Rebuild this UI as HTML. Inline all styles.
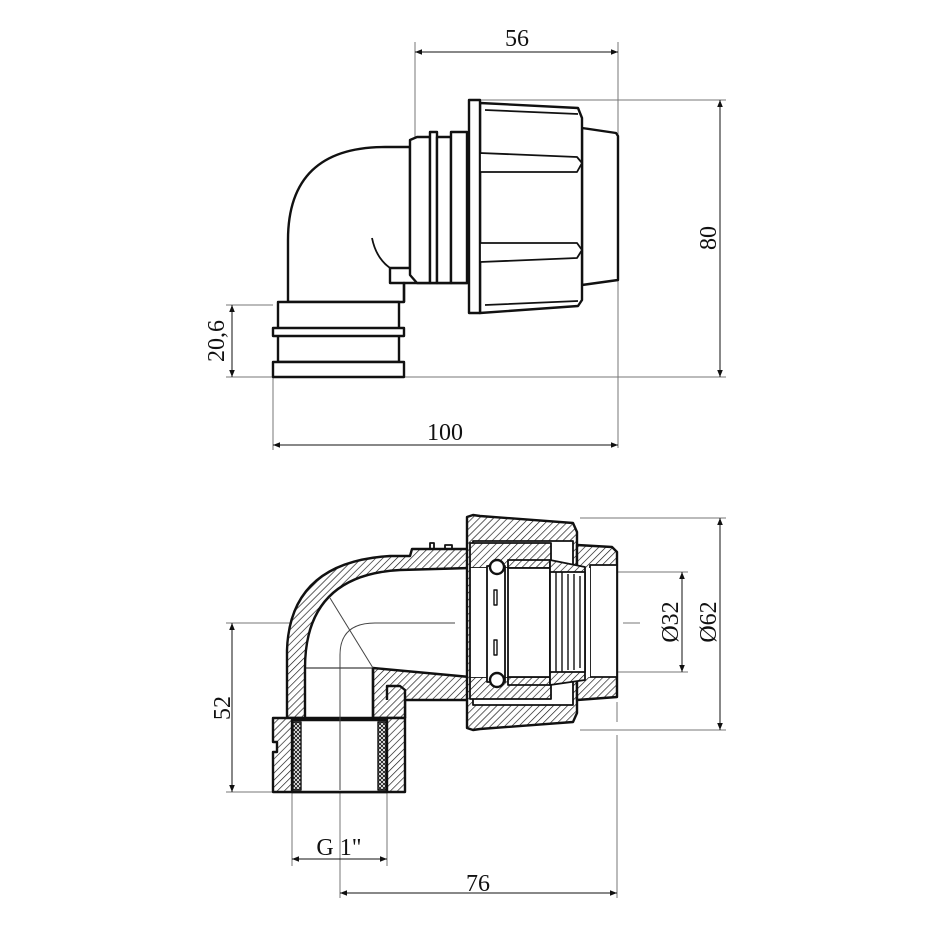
<!DOCTYPE html>
<html><head><meta charset="utf-8"><style>
html,body{margin:0;padding:0;background:#fff}
svg{display:block}
text{font-family:"Liberation Serif",serif;font-size:24px;fill:#111}
</style></head><body>
<svg width="930" height="930" viewBox="0 0 930 930" xmlns="http://www.w3.org/2000/svg">
<defs>
<pattern id="h" patternUnits="userSpaceOnUse" width="5" height="5" patternTransform="rotate(45)">
<rect width="5" height="5" fill="#fff"/><line x1="0" y1="0" x2="0" y2="5" stroke="#111" stroke-width="1.3"/></pattern>
<pattern id="x" patternUnits="userSpaceOnUse" width="4" height="4">
<rect width="4" height="4" fill="#fff"/><path d="M0,0L4,4M4,0L0,4" stroke="#111" stroke-width="0.9"/></pattern>
<marker id="a" viewBox="0 0 10 10" refX="10" refY="5" markerWidth="12" markerHeight="7" orient="auto-start-reverse" markerUnits="userSpaceOnUse"><path d="M0,1L10,5L0,9Z" fill="#111"/></marker>
</defs>

<!-- ===== TOP VIEW ===== -->
<g stroke="#777" stroke-width="1" fill="none">
<line x1="415" y1="42" x2="415" y2="140"/>
<line x1="618" y1="42" x2="618" y2="448"/>
<line x1="480" y1="100" x2="726" y2="100"/>
<line x1="405" y1="377" x2="726" y2="377"/>
<line x1="226" y1="305" x2="273" y2="305"/>
<line x1="226" y1="377" x2="273" y2="377"/>
<line x1="273" y1="377" x2="273" y2="450"/>
</g>
<g stroke="#111" stroke-width="1" fill="none">
<line x1="415" y1="52" x2="618" y2="52" marker-start="url(#a)" marker-end="url(#a)"/>
<line x1="720" y1="100" x2="720" y2="377" marker-start="url(#a)" marker-end="url(#a)"/>
<line x1="232" y1="305" x2="232" y2="377" marker-start="url(#a)" marker-end="url(#a)"/>
<line x1="273" y1="445" x2="618" y2="445" marker-start="url(#a)" marker-end="url(#a)"/>
</g>
<text x="517" y="46" text-anchor="middle">56</text>
<text x="445" y="440" text-anchor="middle">100</text>
<text transform="translate(716,238) rotate(-90)" text-anchor="middle">80</text>
<text transform="translate(224,341) rotate(-90)" text-anchor="middle">20,6</text>

<g stroke="#111" stroke-width="2.4" fill="#fff" stroke-linejoin="round">
<path d="M288,302 L288,240 Q288,147 385,147 L410,147 L410,268 L390,268 L390,283 L404,283 L404,302 Z"/>
<path d="M372,238 Q376,258 390,268" fill="none" stroke-width="1.8"/>
<path d="M404,302 L404,283 L470,283" fill="none"/>
<rect x="278" y="302" width="121" height="60"/>
<rect x="273" y="328" width="131" height="8"/>
<rect x="273" y="362" width="131" height="15"/>
<path d="M410,140 L417,137 L430,137 L430,283 L417,283 L410,275 Z"/>
<rect x="430" y="132" width="7" height="151"/>
<rect x="437" y="137" width="14" height="146"/>
<rect x="451" y="132" width="16" height="151"/>
<path d="M582,128 L616,133 L618,136 L618,280 L582,285 Z"/>
<path d="M480,103 L578,108 L582,118 L582,300 L578,306 L480,313 Z"/>
<rect x="469" y="100" width="11" height="213"/>
<path d="M480,153 L577,157 L582,163 L577,172 L480,172 Z" stroke-width="1.8"/>
<path d="M480,243 L577,243 L582,250 L577,258 L480,262 Z" stroke-width="1.8"/>
<path d="M485,110 L578,114 M485,305 L578,301" fill="none" stroke-width="1.8"/>
</g>

<!-- ===== BOTTOM VIEW ===== -->
<g stroke="#777" stroke-width="1" fill="none">
<line x1="226" y1="623" x2="455" y2="623"/>
<line x1="226" y1="792" x2="273" y2="792"/>
<line x1="580" y1="518" x2="726" y2="518"/>
<line x1="580" y1="730" x2="726" y2="730"/>
<line x1="610" y1="572" x2="688" y2="572"/>
<line x1="610" y1="672" x2="688" y2="672"/>
<line x1="340" y1="623" x2="340" y2="898"/>
<line x1="292" y1="793" x2="292" y2="866"/>
<line x1="387" y1="793" x2="387" y2="866"/>
<line x1="617" y1="735" x2="617" y2="898"/>
<line x1="617" y1="702" x2="617" y2="722"/>
<line x1="455" y1="623" x2="640" y2="623" stroke-dasharray="40,6,4,6"/>
</g>
<g stroke="#111" stroke-width="1" fill="none">
<line x1="232" y1="623" x2="232" y2="792" marker-start="url(#a)" marker-end="url(#a)"/>
<line x1="682" y1="572" x2="682" y2="672" marker-start="url(#a)" marker-end="url(#a)"/>
<line x1="720" y1="518" x2="720" y2="730" marker-start="url(#a)" marker-end="url(#a)"/>
<line x1="292" y1="859" x2="387" y2="859" marker-start="url(#a)" marker-end="url(#a)"/>
<line x1="340" y1="893" x2="617" y2="893" marker-start="url(#a)" marker-end="url(#a)"/>
</g>
<text transform="translate(230,708) rotate(-90)" text-anchor="middle">52</text>
<text transform="translate(678,622) rotate(-90)" text-anchor="middle">Ø32</text>
<text transform="translate(716,622) rotate(-90)" text-anchor="middle">Ø62</text>
<text x="339" y="855" text-anchor="middle">G 1"</text>
<text x="478" y="891" text-anchor="middle">76</text>

<g stroke="#111" stroke-width="2.4" stroke-linejoin="round">
<path d="M287,718 L287,650 Q290,562 390,556 L410,556 L412,549 L470,549 L470,700 L405,700 L405,718 Z" fill="url(#h)"/>
<path d="M273,718 L405,718 L405,792 L273,792 L273,752 L277,752 L277,742 L273,742 Z" fill="url(#h)"/>
<path d="M305,718 L305,668 Q305,575 400,570 L470,568 L470,677 L373,668 L373,718 Z" fill="#fff"/>
<path d="M373,668 L373,718" fill="none"/>
<line x1="305" y1="668" x2="373" y2="668" stroke-width="1"/>
<rect x="292" y="720" width="95" height="72" fill="#fff"/>
<rect x="293" y="722" width="8" height="68" fill="url(#x)" stroke-width="1.4"/>
<rect x="378" y="722" width="8" height="68" fill="url(#x)" stroke-width="1.4"/>
<path d="M387,700 L387,686 L400,686 L405,690 L405,718" fill="url(#h)"/>
<path d="M467,517 L473,515 L480,516 L573,523 L577,532 L577,713 L573,722 L480,729 L473,730 L467,728 Z" fill="url(#h)"/>
<rect x="473" y="541" width="100" height="164" fill="#fff" stroke-width="1.8"/>
<rect x="470" y="543" width="81" height="25" fill="url(#h)" stroke-width="1.8"/>
<rect x="470" y="677" width="81" height="22" fill="url(#h)" stroke-width="1.8"/>
<path d="M577,545 L612,547 L617,552 L617,697 L577,700 Z" fill="url(#h)"/>
<rect x="590" y="565" width="27" height="112" fill="#fff" stroke-width="1.8"/>
<rect x="470" y="568" width="120" height="109" fill="#fff" stroke="none"/>
<line x1="470" y1="568" x2="470" y2="677" stroke-width="1.8"/>
<rect x="487" y="566" width="18" height="116" fill="#fff" stroke-width="1.8"/>
<rect x="494" y="590" width="3" height="15" fill="#fff" stroke-width="1.4"/>
<rect x="494" y="640" width="3" height="15" fill="#fff" stroke-width="1.4"/>
<circle cx="497" cy="567" r="7" fill="#fff"/>
<circle cx="497" cy="680" r="7" fill="#fff"/>
<rect x="508" y="560" width="42" height="8" fill="url(#h)" stroke-width="1.8"/>
<rect x="508" y="677" width="42" height="8" fill="url(#h)" stroke-width="1.8"/>
<rect x="508" y="568" width="42" height="109" fill="#fff" stroke-width="1.8"/>
<path d="M550,560 L585,567 L585,680 L550,685 Z" fill="url(#h)" stroke-width="1.8"/>
<rect x="550" y="572" width="35" height="100" fill="#fff" stroke-width="1.8"/>
<path d="M556,572V672M562,572V672M568,574V670M574,574V670M580,576V668" stroke-width="1.4" fill="none"/>
<path d="M430,549 L430,543 L434,543 L434,549 M445,549 L445,545 L452,545 L452,549" fill="none" stroke-width="1.8"/>
</g>
<g stroke="#444" stroke-width="1" fill="none">
<path d="M340,790 L340,655 Q340,623 375,623 L455,623"/>
<line x1="330" y1="598" x2="373" y2="668"/>
</g>
</svg>
</body></html>
